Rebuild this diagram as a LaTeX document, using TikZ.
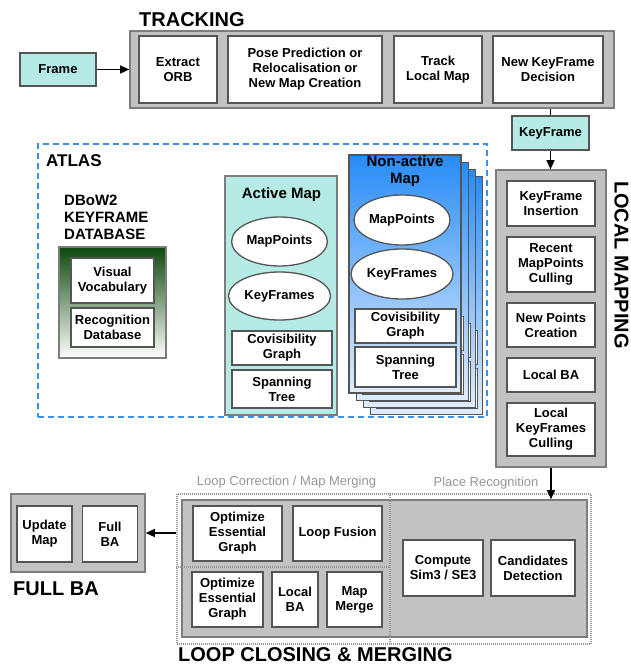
\documentclass[tikz,border=0pt]{standalone}
\usepackage{fontspec}
\setmainfont{Liberation Sans}
\usepackage{tikz}
\usetikzlibrary{arrows.meta,calc,shapes.geometric,backgrounds}

\definecolor{boxgray}{RGB}{194,194,194}
\definecolor{edgegray}{RGB}{125,125,125}
\definecolor{linegray}{RGB}{85,85,85}
\definecolor{paleteal}{RGB}{182,234,229}
\definecolor{atlasblue}{RGB}{60,145,230}
\definecolor{darkgreen}{RGB}{12,72,12}
\definecolor{mapblue}{RGB}{40,140,245}
\definecolor{mapbluelight}{RGB}{222,236,255}
\definecolor{notegray}{RGB}{150,150,150}

\tikzstyle{graybox}=[draw=edgegray, fill=boxgray, line width=1.6pt, inner sep=0pt]
\tikzstyle{whitebox}=[draw=linegray, fill=white, line width=1.3pt, align=center, inner sep=1pt, font=\fontsize{13}{15}\selectfont\bfseries]
\tikzstyle{tealbox}=[whitebox, fill=paleteal]
\tikzstyle{mapoval}=[whitebox, ellipse]
\tikzstyle{bigtitle}=[inner sep=0pt, anchor=west, font=\fontsize{20}{22}\selectfont\bfseries]
\tikzstyle{subtitle}=[inner sep=0pt, align=center, font=\fontsize{15}{17}\selectfont\bfseries]
\tikzstyle{note}=[inner sep=0pt, text=notegray, font=\fontsize{13}{15}\selectfont]
\tikzstyle{dotline}=[draw=notegray, line width=1.2pt, dash pattern=on 1pt off 1pt]
\tikzstyle{flow}=[->, line width=1.3pt, black]

\begin{document}
\begin{tikzpicture}[x=1pt, y=-1pt, >={Triangle[length=9pt,width=8pt]}]
\useasboundingbox (0,0) rectangle (630,666);

% tracking
\node[bigtitle] (tracktitle) at (139,20) {TRACKING};
\node[graybox, minimum width=484, minimum height=77] (trackbox) at (372,69.5) {};
\node[whitebox, minimum width=78, minimum height=67] (orb) at (178,69.5) {Extract\\ORB};
\node[whitebox, minimum width=154, minimum height=67] (pose) at (305,69.5) {Pose Prediction or\\Relocalisation or\\New Map Creation};
\node[whitebox, minimum width=88, minimum height=67] (tlm) at (438,69.5) {Track\\Local Map};
\node[whitebox, minimum width=110, minimum height=67] (nkd) at (548,69.5) {New KeyFrame\\Decision};
\node[tealbox, minimum width=76, minimum height=33] (frame) at (58,69.5) {Frame};
\node[tealbox, minimum width=77, minimum height=34] (keyframe) at (550.5,133) {KeyFrame};

% local mapping
\node[graybox, minimum width=110, minimum height=297] (lmbox) at (551,318.5) {};
\node[whitebox, minimum width=88, minimum height=45] (kfi) at (551,203.5) {KeyFrame\\Insertion};
\node[whitebox, minimum width=88, minimum height=55] (rmc) at (551,264.5) {Recent\\MapPoints\\Culling};
\node[whitebox, minimum width=88, minimum height=44] (npc) at (551,325) {New Points\\Creation};
\node[whitebox, minimum width=88, minimum height=34] (lba) at (551,375) {Local BA};
\node[whitebox, minimum width=88, minimum height=53] (lkc) at (551,429.5) {Local\\KeyFrames\\Culling};
\node[bigtitle, rotate=-90, anchor=center] (lmtitle) at (621.5,265) {LOCAL MAPPING};

% atlas
\node[draw=atlasblue, line width=1.8pt, dash pattern=on 6pt off 4pt, inner sep=0pt, minimum width=449, minimum height=273] (atlas) at (262.5,280.5) {};
\node[inner sep=0pt, anchor=west, font=\fontsize{17}{19}\selectfont\bfseries] (atlastitle) at (46,161) {ATLAS};
\node[inner sep=0pt, anchor=north west, align=left, font=\fontsize{15}{17}\selectfont\bfseries] (dbowtitle) at (64,195) {DBoW2\\KEYFRAME\\DATABASE};
\node[draw=edgegray, line width=1.6pt, top color=darkgreen, bottom color=white, inner sep=0pt, minimum width=107, minimum height=111] (dbow) at (112.5,302.5) {};
\node[whitebox, minimum width=83, minimum height=45] (vocab) at (112.5,280.5) {Visual\\Vocabulary};
\node[whitebox, minimum width=83, minimum height=39] (recdb) at (112.5,327.5) {Recognition\\Database};

\node[draw=edgegray, fill=paleteal, line width=1.4pt, inner sep=0pt, minimum width=112, minimum height=239] (active) at (281,295.5) {};
\node[subtitle] (activetitle) at (281.5,195) {Active Map};
\node[mapoval, minimum width=93, minimum height=49] (amp) at (279.5,241.5) {MapPoints};
\node[mapoval, minimum width=93, minimum height=48] (akf) at (279.5,296) {KeyFrames};
\node[whitebox, minimum width=100, minimum height=34] (acov) at (282,348) {Covisibility\\Graph};
\node[whitebox, minimum width=100, minimum height=38] (aspan) at (282,389) {Spanning\\Tree};

\foreach \d in {21,14,7}{
	\draw[draw=linegray, line width=1pt, top color=mapblue, bottom color=mapbluelight] (349+\d,155+\d) rectangle ++(112,238);
	\draw[draw=linegray, line width=1pt, fill=white] (355+\d,309+\d) rectangle ++(101,34);
	\draw[draw=linegray, line width=1pt, fill=white] (355+\d,347+\d) rectangle ++(101,40);
}
\node[draw=linegray, line width=1.2pt, top color=mapblue, bottom color=mapbluelight, inner sep=0pt, minimum width=112, minimum height=238] (nonactive) at (405,274) {};
\node[subtitle] (nonactivetitle) at (405,171.5) {Non-active\\Map};
\node[mapoval, minimum width=96, minimum height=50] (nmp) at (402,220) {MapPoints};
\node[mapoval, minimum width=96, minimum height=50] (nkf) at (402,274) {KeyFrames};
\node[whitebox, minimum width=101, minimum height=34] (ncov) at (405.5,326) {Covisibility\\Graph};
\node[whitebox, minimum width=101, minimum height=40] (nspan) at (405.5,367) {Spanning\\Tree};

% full BA
\node[graybox, minimum width=134, minimum height=78] (fbabox) at (78,533) {};
\node[whitebox, minimum width=55, minimum height=56] (upmap) at (44.5,534) {Update\\Map};
\node[whitebox, minimum width=55, minimum height=56] (fullba) at (110,534) {Full\\BA};
\node[bigtitle] (fbatitle) at (13,589) {FULL BA};

% loop closing
\node[graybox, minimum width=405, minimum height=137] (lcbox) at (384.5,568.5) {};
\node[dotline, inner sep=0pt, minimum width=414, minimum height=150] (lcouter) at (384,569) {};
\coordinate (split) at (390,0);
\coordinate (midrow) at (0,567);
\draw[dotline] (lcouter.north -| split) -- (lcouter.south -| split);
\draw[dotline] (lcouter.west |- midrow) -- (split |- midrow);
\node[note] (lcnote) at (286.5,482) {Loop Correction / Map Merging};
\node[note] (prnote) at (486,483) {Place Recognition};
\node[whitebox, minimum width=89, minimum height=55] (oeg) at (237.5,533.5) {Optimize\\Essential\\Graph};
\node[whitebox, minimum width=89, minimum height=55] (fusion) at (337.5,533.5) {Loop Fusion};
\node[whitebox, minimum width=71, minimum height=55] (oegm) at (227.5,599.5) {Optimize\\Essential\\Graph};
\node[whitebox, minimum width=46, minimum height=55] (lbam) at (295,599.5) {Local\\BA};
\node[whitebox, minimum width=55, minimum height=55] (merge) at (354.5,599.5) {Map\\Merge};
\node[whitebox, minimum width=80, minimum height=56] (sim3) at (443,568) {Compute\\Sim3 / SE3};
\node[whitebox, minimum width=84, minimum height=56] (cands) at (533,568) {Candidates\\Detection};
\node[bigtitle] (lctitle) at (178,655) {LOOP CLOSING \& MERGING};

% connectors
\draw[flow] (frame) -- (trackbox);
\draw[line width=1.3pt, black] (trackbox.south -| keyframe) -- (keyframe.north);
\draw[flow] (keyframe.south) -- (keyframe.south |- lmbox.north);
\draw[flow] (lmbox.south) -- (lmbox.south |- lcbox.north);
\draw[flow] (lcouter.west |- fbabox) -- (fbabox.east);

\end{tikzpicture}
\end{document}
